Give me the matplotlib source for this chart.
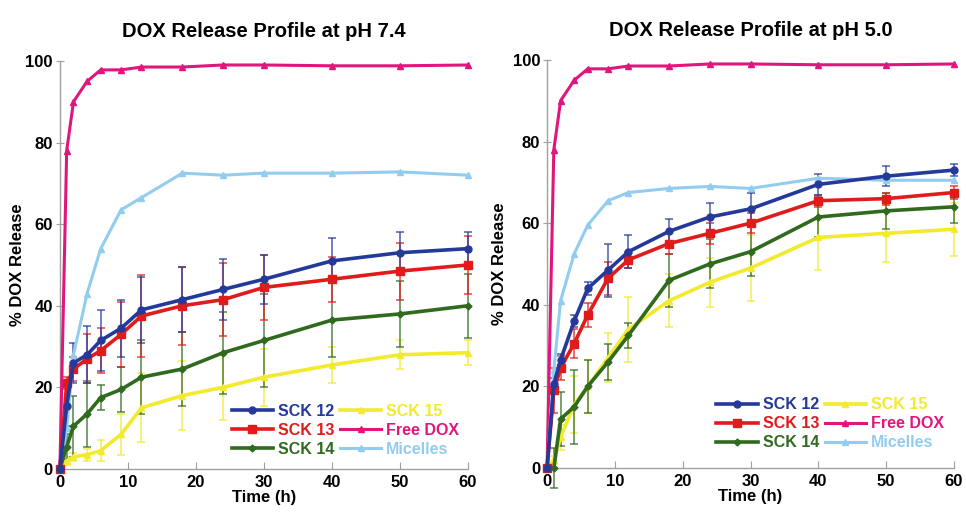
import matplotlib
matplotlib.use("Agg")
import matplotlib.pyplot as plt
import numpy as np

plt.rcParams['font.family'] = ['Liberation Sans', 'DejaVu Sans']

time_h = [0, 1, 2, 4, 6, 9, 12, 18, 24, 30, 40, 50, 60]
series_names = ["SCK 12", "SCK 13", "SCK 14", "SCK 15", "Free DOX", "Micelles"]

# pH 7.4
ph74_sck12 = [0, 15.5, 26, 28, 31.5, 34.5, 39, 41.5, 44, 46.5, 51, 53, 54]
ph74_sck12_err = [0, 5, 5, 7, 7.5, 7, 8, 8, 7.5, 6, 5.5, 5, 4]
ph74_sck13 = [0, 21, 24.5, 27, 29, 33, 37.5, 40, 41.5, 44.5, 46.5, 48.5, 50]
ph74_sck13_err = [0, 1.5, 3, 6, 5.5, 8, 10, 9.5, 9, 8, 5.5, 7, 7]
ph74_sck14 = [0, 5.5, 10.5, 13.5, 17.5, 19.5, 22.5, 24.5, 28.5, 31.5, 36.5, 38, 40]
ph74_sck14_err = [0, 3, 7.5, 8, 3, 5.5, 9, 9, 10, 11.5, 9, 8, 7.8]
ph74_sck15 = [0, 2, 3, 3.5, 4.5, 8.5, 15, 18, 20, 22.5, 25.5, 28, 28.5]
ph74_sck15_err = [0, 1, 1, 1.5, 2.5, 5, 8.5, 8.5, 8, 7, 4.5, 3.5, 3]
ph74_free = [0, 78, 90, 95, 97.8, 97.8, 98.5, 98.5, 99, 99, 98.8, 98.8, 99]
ph74_micelles = [0, 10, 28, 43, 54, 63.5, 66.5, 72.5, 72, 72.5, 72.5, 72.8, 72]

# pH 5.0
ph50_sck12 = [0, 20.5, 26.5, 36, 44, 48.5, 53, 58, 61.5, 63.5, 69.5, 71.5, 73]
ph50_sck12_err = [0, 1.5, 1.5, 1.5, 1.5, 6.5, 4, 3, 3.5, 4, 2.5, 2.5, 1.5]
ph50_sck13 = [0, 19, 24.5, 30.5, 37.5, 46.5, 51, 55, 57.5, 60, 65.5, 66, 67.5]
ph50_sck13_err = [0, 5.5, 3, 3.5, 3, 4, 2, 2.5, 2.5, 2.5, 1.5, 1.5, 1.5]
ph50_sck14 = [0, 0, 12, 15, 20, 26, 32.5, 46, 50, 53, 61.5, 63, 64]
ph50_sck14_err = [0, 5, 6.5, 9, 6.5, 4.5, 3, 6.5, 6, 6, 5, 4.5, 4]
ph50_sck15 = [0, 2, 7.5, 15.5, 20, 27, 34, 41, 45.5, 49, 56.5, 57.5, 58.5]
ph50_sck15_err = [0, 1, 3, 7, 6.5, 6, 8, 6.5, 6, 8, 8, 7, 6.5]
ph50_free = [0, 78, 90, 95, 97.8, 97.8, 98.5, 98.5, 99, 99, 98.8, 98.8, 99]
ph50_micelles = [0, 24, 41, 52.5, 59.5, 65.5, 67.5, 68.5, 69, 68.5, 71, 70.5, 70.5]

colors = ["#24399a", "#e01b1b", "#2f6a1f", "#f2ea2c", "#e0167c", "#92cdf0"]
markers = ["o", "s", "D", "^", "^", "^"]
msizes = [5, 6, 3.5, 5, 4.5, 4]

fig = plt.figure(figsize=(9.66, 5.14), dpi=100)
ax1 = fig.add_axes([0.062, 0.0875, 0.4224, 0.794])
ax2 = fig.add_axes([0.5663, 0.0895, 0.4213, 0.794])

panels = [
    (ax1, "DOX Release Profile at pH 7.4",
     [ph74_sck12, ph74_sck13, ph74_sck14, ph74_sck15, ph74_free, ph74_micelles],
     [ph74_sck12_err, ph74_sck13_err, ph74_sck14_err, ph74_sck15_err, None, None],
     (0.405, 0.015), -0.086),
    (ax2, "DOX Release Profile at pH 5.0",
     [ph50_sck12, ph50_sck13, ph50_sck14, ph50_sck15, ph50_free, ph50_micelles],
     [ph50_sck12_err, ph50_sck13_err, ph50_sck14_err, ph50_sck15_err, None, None],
     (0.40, 0.028), -0.098),
]

order = [4, 5, 3, 2, 1, 0]
for ax, title, ys, errs, legpos, ylx in panels:
    handles = {}
    for i in order:
        if errs[i] is not None:
            ax.errorbar(time_h, ys[i], yerr=errs[i], fmt='none', ecolor=colors[i],
                        elinewidth=1.2, capsize=3, capthick=1.2, alpha=0.75,
                        clip_on=False, zorder=2)
        ln, = ax.plot(time_h, ys[i], color=colors[i], marker=markers[i], markersize=msizes[i],
                      linewidth=2.6 if i < 4 else 2.2, clip_on=False, zorder=3,
                      label=series_names[i])
        handles[i] = ln
    ax.set_xlim(0, 60)
    ax.set_ylim(0, 100)
    ax.set_xticks([0, 10, 20, 30, 40, 50, 60])
    ax.set_yticks([0, 20, 40, 60, 80, 100])
    for s in ["top", "right"]:
        ax.spines[s].set_visible(False)
    for s in ["left", "bottom"]:
        ax.spines[s].set_color("#a0a0a0")
        ax.spines[s].set_linewidth(1.0)
    ax.tick_params(axis='x', direction='in', length=5, color="#a0a0a0", labelsize=12, pad=4)
    ax.tick_params(axis='y', direction='inout', length=6, color="#a0a0a0", labelsize=12, pad=2)
    for lab in ax.get_xticklabels() + ax.get_yticklabels():
        lab.set_fontweight('bold')
    ax.set_title(title, fontsize=14.5, fontweight='bold', pad=17)
    ax.set_xlabel("Time (h)", fontsize=12, fontweight='bold', labelpad=0.5)
    ax.set_ylabel("% DOX Release", fontsize=12, fontweight='bold')
    ax.yaxis.set_label_coords(ylx, 0.5)
    leg_order = [0, 1, 2, 3, 4, 5]
    leg = ax.legend([handles[i] for i in leg_order], [series_names[i] for i in leg_order],
                    ncol=2, loc='lower left', bbox_to_anchor=legpos, frameon=False,
                    prop={'weight': 'bold', 'size': 11.5}, handlelength=2.6,
                    handletextpad=0.3, columnspacing=0.35, labelspacing=0.25,
                    borderaxespad=0)
    for t, i in zip(leg.get_texts(), leg_order):
        t.set_color(colors[i])

fig.savefig("out.png", dpi=100, facecolor="white")
